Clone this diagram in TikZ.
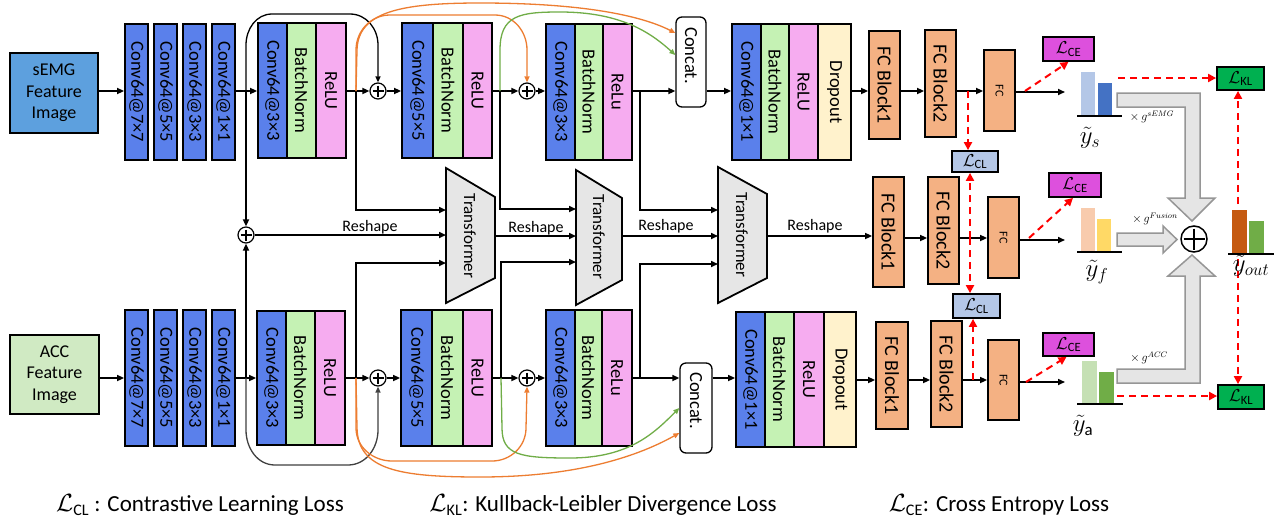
\documentclass[tikz,border=0pt]{standalone}
\usepackage{fontspec}
\setmainfont{Carlito}
\usepackage{amsmath}
\usepackage{graphicx}
\usetikzlibrary{arrows.meta,calc}
\definecolor{semgblue}{RGB}{93,160,222}
\definecolor{accgreen}{RGB}{208,234,195}
\definecolor{convblue}{RGB}{90,128,235}
\definecolor{bngreen}{RGB}{197,242,180}
\definecolor{relupink}{RGB}{246,172,240}
\definecolor{dropyellow}{RGB}{255,242,204}
\definecolor{fcorange}{RGB}{244,177,131}
\definecolor{tgray}{RGB}{230,230,230}
\definecolor{lcemag}{RGB}{221,80,221}
\definecolor{lclblue}{RGB}{180,199,231}
\definecolor{lklgreen}{RGB}{0,176,80}
\definecolor{garfill}{RGB}{229,229,229}
\definecolor{gardraw}{RGB}{150,150,150}
\definecolor{orc}{RGB}{237,125,49}
\definecolor{grc}{RGB}{112,173,71}
\definecolor{ysa}{RGB}{180,199,231}
\definecolor{ysb}{RGB}{68,114,196}
\definecolor{yfa}{RGB}{248,203,173}
\definecolor{yfb}{RGB}{255,217,102}
\definecolor{yaa}{RGB}{197,224,180}
\definecolor{yab}{RGB}{112,173,71}
\definecolor{yoa}{RGB}{197,90,17}
\definecolor{yob}{RGB}{112,173,71}
\newcommand{\myblk}[7]{\node[blk,fill=#2,minimum width=#5pt,minimum height=#6pt] (#1) at (#3,#4) {\rotatebox{-90}{#7}};}
\newcommand{\fcb}{\fontsize{20}{20}\selectfont}
\newcommand{\fcs}{\fontsize{12}{12}\selectfont}
\begin{document}
\begin{tikzpicture}[x=1pt,y=-1pt,
  blk/.style={draw=black,line width=1.8pt,inner sep=0pt,font=\fontsize{18.5}{18.5}\selectfont},
  arr/.style={line width=1.6pt,-{Triangle[length=7pt,width=6pt]}},
  thickline/.style={line width=2.8pt},
  curvea/.style={line width=1.3pt,-{Triangle[length=6pt,width=5pt]}},
  orangec/.style={curvea,draw=orc},
  greenc/.style={curvea,draw=grc},
  reddash/.style={draw=red,line width=2pt,dash pattern=on 7pt off 5pt,-{Triangle[length=8pt,width=8pt]}},
  lossbox/.style={draw=black,line width=1.8pt,inner sep=0pt,font=\fontsize{18}{18}\selectfont},
  plusc/.style={circle,draw,line width=1.2pt,minimum size=16pt,inner sep=0pt,fill=white,
    path picture={\draw[line width=1.2pt] ([yshift=-2.5pt]path picture bounding box.north) -- ([yshift=2.5pt]path picture bounding box.south);
                  \draw[line width=1.2pt] ([xshift=2.5pt]path picture bounding box.west) -- ([xshift=-2.5pt]path picture bounding box.east);}},
  tstyle/.style={draw=black,line width=1.8pt,fill=tgray},
  garrow/.style={draw=gardraw,line width=1.5pt,fill=garfill},
  lbl/.style={font=\fontsize{16}{16}\selectfont,inner sep=0pt},
  bigtxt/.style={font=\fontsize{18}{21.5}\selectfont,align=center}
]
\useasboundingbox (0,0) rectangle (1284,520);
\fill[white] (0,0) rectangle (1284,520);

% ---------------- input boxes
\node[draw=black,line width=1.8pt,fill=semgblue,minimum width=88pt,minimum height=80pt,bigtxt] (semg) at (54,93) {sEMG\\Feature\\Image};
\node[draw=black,line width=1.8pt,fill=accgreen,minimum width=89pt,minimum height=79pt,bigtxt] (acc) at (54.5,374.5) {ACC\\Feature\\Image};

% ---------------- top row
\myblk{c7t}{convblue}{136.5}{92}{23}{136}{Conv64@7×7}
\myblk{c5t}{convblue}{165.5}{92}{23}{136}{Conv64@5×5}
\myblk{c3t}{convblue}{194.5}{92}{23}{136}{Conv64@3×3}
\myblk{c1t}{convblue}{223.5}{92}{23}{136}{Conv64@1×1}
\myblk{r1ct}{convblue}{272.5}{90.5}{29}{135}{Conv64@3×3}
\myblk{r1bt}{bngreen}{301.5}{90.5}{29}{135}{BatchNorm}
\myblk{r1rt}{relupink}{331}{90.5}{30}{135}{ReLU}
\myblk{r2ct}{convblue}{417.5}{90.5}{31}{135}{Conv64@5×5}
\myblk{r2bt}{bngreen}{448}{90.5}{30}{135}{BatchNorm}
\myblk{r2rt}{relupink}{477.5}{90.5}{29}{135}{ReLU}
\myblk{r3ct}{convblue}{560.5}{92}{29}{136}{Conv64@3×3}
\myblk{r3bt}{bngreen}{589}{92}{28}{136}{BatchNorm}
\myblk{r3rt}{relupink}{617.5}{92}{29}{136}{ReLu}
\myblk{b4ct}{convblue}{746.5}{92}{29}{136}{Conv64@1×1}
\myblk{b4bt}{bngreen}{775}{92}{28}{136}{BatchNorm}
\myblk{b4rt}{relupink}{803.5}{92}{29}{136}{ReLU}
\myblk{b4dt}{dropyellow}{834.5}{92}{33}{136}{Dropout}
\myblk{f1t}{fcorange}{884.5}{85}{31}{108}{\fcb FC Block1}
\myblk{f2t}{fcorange}{940.5}{83.5}{31}{107}{\fcb FC Block2}
\myblk{fct}{fcorange}{999.5}{90.5}{31}{81}{\fcs FC}
\node[blk,line width=1.3pt,fill=white,rounded corners=6pt,minimum width=30pt,minimum height=90pt] (cct) at (691,62) {\rotatebox{-90}{Concat.\hspace{13pt}}};

% ---------------- bottom row
\myblk{c7b}{convblue}{136.5}{378}{23}{136}{Conv64@7×7}
\myblk{c5b}{convblue}{165.5}{378}{23}{136}{Conv64@5×5}
\myblk{c3b}{convblue}{194.5}{378}{23}{136}{Conv64@3×3}
\myblk{c1b}{convblue}{223.5}{378}{23}{136}{Conv64@1×1}
\myblk{r1cb}{convblue}{271.5}{378}{29}{134}{Conv64@3×3}
\myblk{r1bb}{bngreen}{300.5}{378}{29}{134}{BatchNorm}
\myblk{r1rb}{relupink}{330}{378}{30}{134}{ReLU}
\myblk{r2cb}{convblue}{416.5}{378}{31}{136}{Conv64@5×5}
\myblk{r2bb}{bngreen}{447.5}{378}{31}{136}{BatchNorm}
\myblk{r2rb}{relupink}{477.5}{378}{29}{136}{ReLU}
\myblk{r3cb}{convblue}{560.5}{378}{29}{136}{Conv64@3×3}
\myblk{r3bb}{bngreen}{588.5}{378}{27}{136}{BatchNorm}
\myblk{r3rb}{relupink}{617}{378}{30}{136}{ReLu}
\myblk{b4cb}{convblue}{750.5}{379.5}{29}{135}{Conv64@1×1}
\myblk{b4bb}{bngreen}{779.5}{379.5}{29}{135}{BatchNorm}
\myblk{b4rb}{relupink}{809}{379.5}{30}{135}{ReLU}
\myblk{b4db}{dropyellow}{840}{379.5}{32}{135}{Dropout}
\myblk{f1b}{fcorange}{892}{375.5}{32}{107}{\fcb FC Block1}
\myblk{f2b}{fcorange}{946.5}{374}{31}{106}{\fcb FC Block2}
\myblk{fcb}{fcorange}{1003.5}{380}{31}{80}{\fcs FC}
\node[blk,line width=1.3pt,fill=white,rounded corners=6pt,minimum width=32pt,minimum height=90pt] (ccb) at (696,408) {\rotatebox{-90}{Concat.\hspace{15pt}}};

% ---------------- middle row FC
\myblk{f1m}{fcorange}{888.5}{232}{31}{110}{\fcb FC Block1}
\myblk{f2m}{fcorange}{943.5}{230.5}{31}{107}{\fcb FC Block2}
\myblk{fcm}{fcorange}{1003.5}{237.5}{31}{81}{\fcs FC}

% ---------------- transformers
\draw[tstyle] (446,168) -- (495,197) -- (495,278) -- (446,303) -- cycle;
\draw[tstyle] (576,170) -- (622,198) -- (622,280) -- (576,305) -- cycle;
\draw[tstyle] (718,167) -- (767,194) -- (767,278) -- (718,303) -- cycle;
\node[rotate=-90,font=\fontsize{17}{17}\selectfont] (T1) at (470,236) {Transformer};
\node[rotate=-90,font=\fontsize{17}{17}\selectfont] (T2) at (599,237) {Transformer};
\node[rotate=-90,font=\fontsize{17}{17}\selectfont] (T3) at (742,235) {Transformer};
\coordinate (t1a) at (446,210); \coordinate (t1b) at (446,235); \coordinate (t1c) at (446,263); \coordinate (t1o) at (495,236);
\coordinate (t2a) at (576,209); \coordinate (t2b) at (576,236); \coordinate (t2c) at (576,262); \coordinate (t2o) at (622,236);
\coordinate (t3a) at (718,210); \coordinate (t3b) at (718,236); \coordinate (t3c) at (718,264); \coordinate (t3o) at (767,236);

% ---------------- plus nodes
\node[plusc] (p0) at (246,235) {};
\node[plusc] (p1t) at (378,91) {};
\node[plusc] (p2t) at (527,91) {};
\node[plusc] (p1b) at (378,378) {};
\node[plusc] (p2b) at (527,378) {};

\coordinate (yt) at (0,91);
\coordinate (yb) at (0,378);
\coordinate (ybr) at (0,380);
\coordinate (ym) at (0,238);

% ---------------- top row connectors
\draw[arr] (semg.east |- yt) -- (c7t.west |- yt);
\draw[arr] (c1t.east |- yt) -- (r1ct.west |- yt);
\coordinate (j1t) at (246,91);
\draw[arr] (j1t) -- (p0.north);
\draw[curvea,draw=black] (j1t) -- (246,45) to[out=90,in=180] (272,14) -- (350,14) to[out=0,in=90] (378,45) -- (p1t.north);
\draw[arr] (r1rt.east |- yt) -- (p1t.west);
\draw[arr] (p1t.east) -- (r2ct.west |- yt);
\coordinate (b1t) at (356,91);
\draw[thickline] (b1t) -- (356,210);
\draw[arr] (b1t) |- (t1a);
\draw[orangec] (b1t) -- (356,50) to[out=90,in=180] (390,15) -- (495,15) to[out=0,in=90] (527,50) -- (p2t.north);
\draw[orangec] (b1t) -- (357,50) .. controls (358,12) and (400,3) .. (480,3) .. controls (580,3) and (640,15) .. (cct.west |- 0,33);
\draw[arr] (r2rt.east |- yt) -- (p2t.west);
\draw[arr] (p2t.east) -- (r3ct.west |- yt);
\coordinate (b2t) at (500,91);
\draw[thickline] (b2t) -- (500,209);
\draw[arr] (b2t) |- (t2a);
\draw[greenc] (b2t) -- (500,50) .. controls (500,15) and (520,12) .. (560,12) .. controls (620,12) and (650,32) .. (cct.west |- 0,55);
\draw[arr] (r3rt.east |- yt) -- (cct.west |- yt);
\coordinate (b3t) at (640,91);
\draw[arr] (b3t) |- (t3a);
\draw[arr] (cct.east |- yt) -- (b4ct.west |- yt);
\draw[arr] (b4dt.east |- yt) -- (f1t.west |- yt);
\draw[arr] (f1t.east |- yt) -- (f2t.west |- yt);
\draw[arr] (f2t.east |- yt) -- (fct.west |- yt);
\coordinate (ysin) at (1065,92);
\draw[arr] (fct.east |- ysin) -- (ysin);

% ---------------- bottom row connectors
\draw[arr] (acc.east |- yb) -- (c7b.west |- yb);
\draw[arr] (c1b.east |- yb) -- (r1cb.west |- yb);
\coordinate (j1b) at (246,378);
\draw[arr] (j1b) -- (p0.south);
\draw[curvea,draw=black!75] (j1b) -- (246,430) to[out=-90,in=180] (275,465) -- (348,465) to[out=0,in=-90] (378,430) -- (p1b.south);
\draw[arr] (r1rb.east |- yb) -- (p1b.west);
\draw[arr] (p1b.east) -- (r2cb.west |- yb);
\coordinate (b1b) at (356,378);
\draw[thickline] (b1b) -- (356,263);
\draw[arr] (b1b) |- (t1c);
\draw[orangec] (b1b) -- (356,428) to[out=-90,in=180] (392,461) -- (492,461) to[out=0,in=-90] (526,428) -- (p2b.south);
\draw[orangec] (b1b) -- (357,428) .. controls (358,470) and (400,477) .. (480,477) .. controls (580,477) and (640,455) .. (ccb.west |- 0,433);
\draw[arr] (r2rb.east |- yb) -- (p2b.west);
\draw[arr] (p2b.east) -- (r3cb.west |- yb);
\coordinate (b2b) at (501,378);
\draw[thickline] (b2b) -- (501,262);
\draw[arr] (b2b) |- (t2c);
\draw[greenc] (b2b) -- (502,428) .. controls (502,455) and (520,458) .. (570,458) .. controls (630,458) and (655,432) .. (ccb.west |- 0,408);
\draw[arr] (r3rb.east |- yb) -- (ccb.west |- yb);
\coordinate (b3b) at (640,378);
\draw[arr] (b3b) |- (t3c);
\draw[arr] (ccb.east |- yb) -- (b4cb.west |- yb);
\draw[arr] (b4db.east |- ybr) -- (f1b.west |- ybr);
\draw[arr] (f1b.east |- ybr) -- (f2b.west |- ybr);
\draw[arr] (f2b.east |- ybr) -- (fcb.west |- ybr);
\coordinate (yain) at (1065,382);
\draw[arr] (fcb.east |- yain) -- (yain);

% ---------------- middle connectors
\draw[arr] (p0.east) -- (t1b);
\draw[arr] (t1o) -- (t2b);
\draw[arr] (t2o) -- (t3b);
\draw[arr] (t3o) -- (f1m.west |- t3o);
\draw[arr] (f1m.east |- ym) -- (f2m.west |- ym);
\draw[arr] (f2m.east |- ym) -- (fcm.west |- ym);
\coordinate (yfin) at (1065,240);
\draw[arr] (fcm.east |- yfin) -- (yfin);
\node[lbl] (rs1) at (370,227) {Reshape};
\node[lbl] (rs2) at (536,228) {Reshape};
\node[lbl] (rs3) at (666,226) {Reshape};
\node[lbl] (rs4) at (815,226) {Reshape};

% ---------------- loss boxes
\node[lossbox,fill=lcemag,minimum width=51pt,minimum height=24pt] (lce1) at (1068.5,49) {$\mathcal{L}_{\text{CE}}$};
\node[lossbox,fill=lcemag,minimum width=52pt,minimum height=24pt] (lcem) at (1075,185) {$\mathcal{L}_{\text{CE}}$};
\node[lossbox,fill=lcemag,minimum width=51pt,minimum height=23pt] (lceb) at (1068.5,344.5) {$\mathcal{L}_{\text{CE}}$};
\node[lossbox,fill=lclblue,minimum width=46pt,minimum height=21pt] (lcl1) at (975,161.5) {$\mathcal{L}_{\text{CL}}$};
\node[lossbox,fill=lclblue,minimum width=47pt,minimum height=24pt] (lclb) at (976.5,306) {$\mathcal{L}_{\text{CL}}$};
\node[lossbox,fill=lklgreen,minimum width=47pt,minimum height=23pt] (lkl1) at (1240.5,78.5) {$\mathcal{L}_{\text{KL}}$};
\node[lossbox,fill=lklgreen,minimum width=46pt,minimum height=24pt] (lklb) at (1241,397) {$\mathcal{L}_{\text{KL}}$};

% ---------------- gray arrows and sum
\draw[garrow] (1117,93) -- (1200,93) -- (1200,198) -- (1215,198) -- (1192,221) -- (1168,198) -- (1185,198) -- (1185,107) -- (1117,107) -- cycle;
\draw[garrow] (1117,233) -- (1163,233) -- (1163,226) -- (1177,239.5) -- (1163,253) -- (1163,246) -- (1117,246) -- cycle;
\draw[garrow] (1117,383) -- (1200,383) -- (1200,276) -- (1215,276) -- (1192,255) -- (1168,276) -- (1185,276) -- (1185,369) -- (1117,369) -- cycle;
\node[plusc,minimum size=26pt,line width=1.5pt] (psum) at (1194,239) {};

% ---------------- bars
\fill[ysa] (1081,72) rectangle (1095,116);
\fill[ysb] (1098,83) rectangle (1112,116);
\draw[line width=1.6pt] (1077,116) -- (1122,116);
\fill[yfa] (1081,208) rectangle (1095,252);
\fill[yfb] (1097,219) rectangle (1111,252);
\draw[line width=1.6pt] (1077,252) -- (1122,252);
\fill[yaa] (1082,361) rectangle (1097,404);
\fill[yab] (1099,372) rectangle (1114,404);
\draw[line width=1.6pt] (1077,404) -- (1123,404);
\fill[yoa] (1232,210) rectangle (1247,254);
\fill[yob] (1249,221) rectangle (1264,254);
\draw[line width=1.6pt] (1228,254) -- (1274,254);

% ---------------- red dashed losses
\coordinate (rdt) at (1025,91);
\draw[reddash] (rdt) -- (lce1.south);
\coordinate (rdm) at (1029,238);
\draw[reddash] (rdm) -- ([xshift=-2pt]lcem.south);
\coordinate (rdb) at (1026,382);
\draw[reddash] (rdb) -- ([xshift=-2pt]lceb.south);
\coordinate (dcl1) at (968,91);
\draw[reddash] (dcl1) -- (lcl1.north -| dcl1);
\coordinate (dclm) at (970,238);
\draw[reddash] (dclm) -- (lcl1.south -| dclm);
\draw[reddash] (dclm) -- (lclb.north -| dclm);
\coordinate (dclb) at (973,380);
\draw[reddash] (dclb) -- (lclb.south -| dclb);
\coordinate (ysr) at (1118,78);
\draw[reddash] (ysr) -- (lkl1.west |- ysr);
\coordinate (yar) at (1117,396);
\draw[reddash] (yar) -- (lklb.west |- yar);
\coordinate (yo1) at (1238,204);
\draw[reddash] (yo1) -- (lkl1.south -| yo1);
\coordinate (yo2) at (1238,259);
\draw[reddash] (yo2) -- (lklb.north -| yo2);

% ---------------- labels
\node[font=\fontsize{24}{24}\selectfont] (lys) at (1090,138) {$\tilde{y}_s$};
\node[font=\fontsize{24}{24}\selectfont] (lyf) at (1097,272) {$\tilde{y}_f$};
\node[font=\fontsize{24}{24}\selectfont] (lya) at (1083,426) {$\tilde{y}_{\mathrm{a}}$};
\node[font=\fontsize{24}{24}\selectfont] (lyo) at (1251,266) {$\tilde{y}_{out}$};
\node[font=\fontsize{12}{12}\selectfont] (gs) at (1152,117) {$\times\, g^{sEMG}$};
\node[font=\fontsize{12}{12}\selectfont] (gf) at (1155,219) {$\times\, g^{Fusion}$};
\node[font=\fontsize{12}{12}\selectfont] (ga) at (1149,358) {$\times\, g^{ACC}$};

% ---------------- legend
\node[font=\fontsize{23}{23}\selectfont] (leg1) at (200,505) {$\mathcal{L}_{\text{CL}}$ : Contrastive Learning Loss};
\node[font=\fontsize{23}{23}\selectfont] (leg2) at (603,505) {$\mathcal{L}_{\text{KL}}$: Kullback-Leibler Divergence Loss};
\node[font=\fontsize{23}{23}\selectfont] (leg3) at (999,505) {$\mathcal{L}_{\text{CE}}$: Cross Entropy Loss};
\end{tikzpicture}
\end{document}
